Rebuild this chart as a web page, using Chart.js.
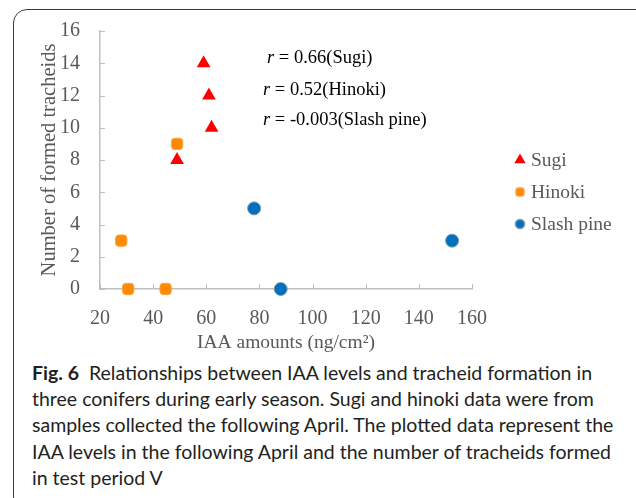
<!DOCTYPE html>
<html>
<head>
<meta charset="utf-8">
<script src="https://cdn.jsdelivr.net/npm/chart.js@4/dist/chart.umd.min.js"></script>
<style>
  body { margin: 0; background: #fff; }
  #frame { position: absolute; left: 13px; top: 9px; width: 640px; height: 500px; border: 1.5px solid #3a3a3a; border-radius: 14px; }
  #chart { position: absolute; left: 0; top: 0; }
  #caption { position: absolute; left: 32px; top: 360px; font-family: Lato, sans-serif; font-size: 19.5px; line-height: 26.2px; color: #231f20; white-space: nowrap; }
  #caption b { font-weight: 700; }
</style>
</head>
<body>
<div id="frame"></div>
<canvas id="chart" width="636" height="360"></canvas>
<div id="caption">
  <div><b>Fig. 6</b>&nbsp; Relationships between IAA levels and tracheid formation in</div>
  <div>three conifers during early season. Sugi and hinoki data were from</div>
  <div>samples collected the following April. The plotted data represent the</div>
  <div>IAA levels in the following April and the number of tracheids formed</div>
  <div>in test period V</div>
</div>
<script>
// valores
const sugiX = [49, 59, 61, 62];
const sugiY = [8, 14, 12, 10];
const hinokiX = [28, 30.6, 44.7, 49];
const hinokiY = [3, 0, 0, 9];
const slashX = [78, 88, 152.5];
const slashY = [5, 0, 3];

const seriesNames = ['Sugi', 'Hinoki', 'Slash pine'];
const rLabels = ['0.66(Sugi)', '0.52(Hinoki)', '-0.003(Slash pine)'];

const gray = '#595959';
const serif = 'Liberation Serif';

function toPoints(xs, ys) {
    return xs.map((x, i) => ({ x: x, y: ys[i] }));
}

// ticks hacia dentro, texto de r y leyenda
const extras = {
    id: 'extras',
    beforeDatasetsDraw(chart) {
        const { ctx, chartArea, scales: { x, y } } = chart;
        ctx.save();
        ctx.strokeStyle = '#bfbfbf';
        ctx.lineWidth = 1;
        ctx.beginPath();
        x.ticks.forEach(t => {
            const px = Math.round(x.getPixelForValue(t.value)) + 0.5;
            ctx.moveTo(px, chartArea.bottom);
            ctx.lineTo(px, chartArea.bottom - 5);
        });
        y.ticks.forEach(t => {
            const py = Math.round(y.getPixelForValue(t.value)) + 0.5;
            ctx.moveTo(chartArea.left, py);
            ctx.lineTo(chartArea.left + 5, py);
        });
        ctx.stroke();
        ctx.restore();
    },
    afterDraw(chart) {
        const { ctx } = chart;
        ctx.save();
        // correlaciones
        const rPos = [[267, 58], [263, 90], [263, 120]];
        ctx.fillStyle = '#000';
        ctx.textBaseline = 'middle';
        rLabels.forEach((txt, i) => {
            const [tx, ty] = rPos[i];
            ctx.font = 'italic 18.5px "' + serif + '"';
            ctx.fillText('r', tx, ty);
            const w = ctx.measureText('r').width;
            ctx.font = '18.5px "' + serif + '"';
            ctx.fillText(' = ' + txt, tx + w, ty);
        });
        // leyenda
        const rows = [160, 192, 224];
        chart.data.datasets.forEach((ds, i) => {
            ctx.fillStyle = ds.backgroundColor;
            ctx.strokeStyle = ds.borderColor;
            Chart.helpers.drawPoint(ctx, {
                pointStyle: ds.pointStyle,
                radius: ds.pointStyle === 'triangle' ? 5 : 4.6,
                rotation: 0,
                borderWidth: 1
            }, 520, rows[i]);
            ctx.fillStyle = gray;
            ctx.font = '19.5px "' + serif + '"';
            ctx.textBaseline = 'middle';
            ctx.fillText(ds.label, 531, rows[i] + 1);
        });
        ctx.restore();
    }
};

new Chart(document.getElementById('chart'), {
    type: 'scatter',
    data: {
        datasets: [
            {
                label: seriesNames[0],
                data: toPoints(sugiX, sugiY),
                pointStyle: 'triangle',
                backgroundColor: '#ff0000',
                borderColor: '#ff0000',
                borderWidth: 1.5,
                pointRadius: 6.4,
                clip: false
            },
            {
                label: seriesNames[1],
                data: toPoints(hinokiX, hinokiY),
                pointStyle: 'rectRounded',
                backgroundColor: '#ff8c00',
                borderColor: '#ffa040',
                borderWidth: 1,
                pointRadius: 6.6,
                clip: false
            },
            {
                label: seriesNames[2],
                data: toPoints(slashX, slashY),
                pointStyle: 'circle',
                backgroundColor: '#0070c0',
                borderColor: '#7f98ad',
                borderWidth: 1,
                pointRadius: 6.5,
                clip: false
            }
        ]
    },
    options: {
        responsive: false,
        animation: false,
        layout: { padding: { left: 0, right: 164, top: 31, bottom: 0 } },
        plugins: {
            legend: { display: false },
            tooltip: { enabled: false }
        },
        scales: {
            x: {
                type: 'linear',
                min: 20,
                max: 160,
                ticks: { stepSize: 20, color: gray, padding: 10, font: { family: serif, size: 20 } },
                grid: { display: false },
                border: { color: '#bfbfbf', width: 1.5 },
                title: {
                    display: true,
                    text: 'IAA amounts (ng/cm²)',
                    color: gray,
                    font: { family: serif, size: 19.5 },
                    padding: { top: 0, bottom: 5 }
                },
                afterFit: s => { s.height = 71; }
            },
            y: {
                min: 0,
                max: 16,
                ticks: { stepSize: 2, color: gray, padding: 12, font: { family: serif, size: 20 } },
                grid: { display: false },
                border: { color: '#bfbfbf', width: 1.5 },
                title: {
                    display: true,
                    text: 'Number of formed tracheids',
                    color: gray,
                    font: { family: serif, size: 20.5 },
                    padding: { top: 37, bottom: 0 }
                },
                afterFit: s => { s.width = 100; }
            }
        }
    },
    plugins: [extras]
});
</script>
</body>
</html>
